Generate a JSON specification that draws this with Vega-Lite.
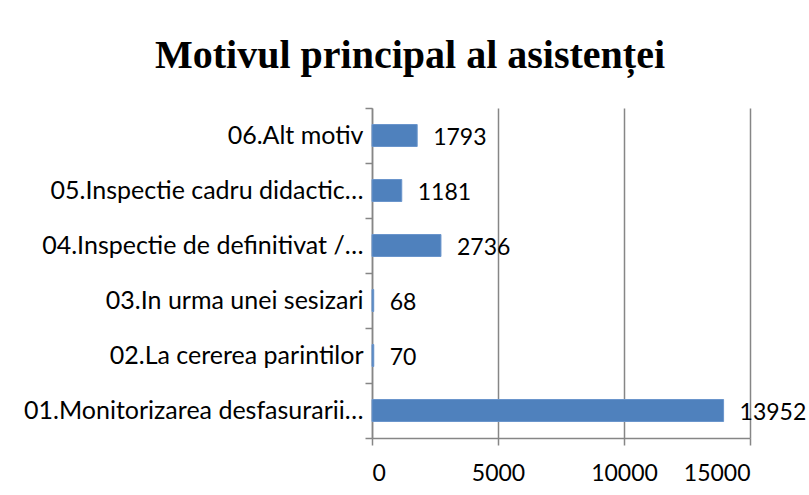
{
  "$schema": "https://vega.github.io/schema/vega-lite/v6.json",
  "autosize": "none",
  "width": 378,
  "height": 330,
  "padding": {"left": 372, "top": 108, "right": 59, "bottom": 57},
  "background": "white",
  "title": {
    "text": "Motivul principal al asistenței",
    "font": "Liberation Serif",
    "fontSize": 40,
    "fontWeight": "bold",
    "color": "black",
    "anchor": "middle",
    "dx": -151,
    "offset": 20
  },
  "data": {
    "values": [
      {"motiv": "01.Monitorizarea desfasurarii…", "n": 13952},
      {"motiv": "02.La cererea parintilor\u2002", "n": 70},
      {"motiv": "03.In urma unei sesizari\u2002", "n": 68},
      {"motiv": "04.Inspectie de definitivat /…", "n": 2736},
      {"motiv": "05.Inspectie cadru didactic…", "n": 1181},
      {"motiv": "06.Alt motiv\u2002", "n": 1793}
    ]
  },
  "encoding": {
    "y": {
      "field": "motiv",
      "type": "nominal",
      "sort": "descending",
      "title": null,
      "scale": {"paddingInner": 0, "paddingOuter": 0},
      "axis": {
        "domainColor": "#868686",
        "domainWidth": 1.5,
        "tickColor": "#868686",
        "tickWidth": 1.5,
        "tickSize": 7,
        "tickBand": "extent",
        "labelPadding": 2,
        "labelFont": "Lato",
        "labelFontSize": 25,
        "labelColor": "black",
        "labelLimit": 400
      }
    },
    "x": {
      "field": "n",
      "type": "quantitative",
      "title": null,
      "scale": {"domain": [0, 15000], "nice": false},
      "axis": {
        "values": [0, 5000, 10000, 15000],
        "format": "d",
        "grid": true,
        "gridColor": "#868686",
        "gridWidth": 1.5,
        "domainColor": "#868686",
        "domainWidth": 1.5,
        "tickColor": "#868686",
        "tickWidth": 1.5,
        "tickSize": 7,
        "labelPadding": 17,
        "labelFont": "Lato",
        "labelFontSize": 23,
        "labelColor": "black"
      }
    }
  },
  "layer": [
    {"mark": {"type": "bar", "color": "#4F81BD", "stroke": "#6A95CC", "strokeWidth": 1, "height": {"band": 0.4}}},
    {
      "mark": {"type": "text", "align": "left", "baseline": "middle", "dx": 16, "dy": 2, "font": "Lato", "fontSize": 23, "color": "black"},
      "encoding": {"text": {"field": "n", "type": "quantitative", "format": "d"}}
    }
  ],
  "config": {"view": {"stroke": null}}
}
